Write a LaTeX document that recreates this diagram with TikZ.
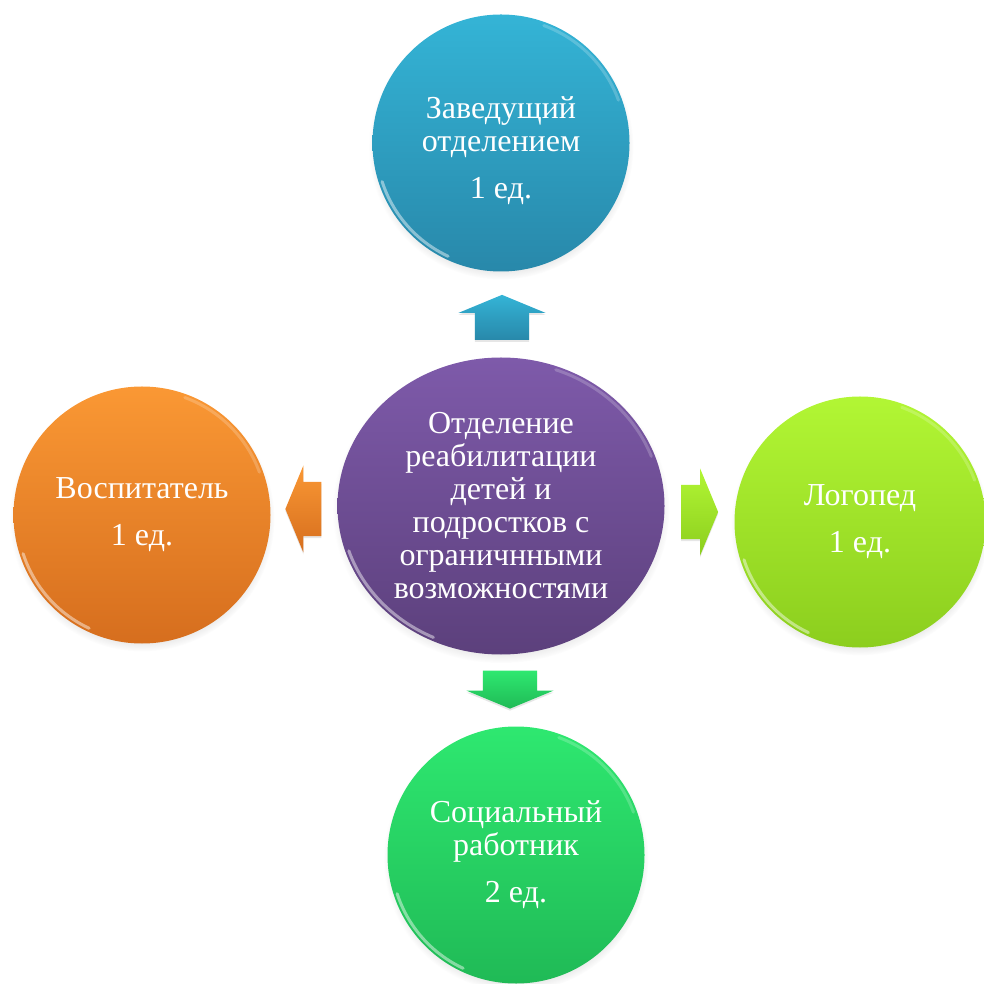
\documentclass[tikz,border=0pt]{standalone}
\usepackage{fontspec}
\setmainfont{Liberation Serif}
\usetikzlibrary{shapes.geometric, shapes.arrows, shadows}
\definecolor{depttop}{RGB}{126,90,170}
\definecolor{deptbot}{RGB}{92,64,124}
\definecolor{bosstop}{RGB}{52,180,214}
\definecolor{bossbot}{RGB}{40,136,170}
\definecolor{eductop}{RGB}{250,152,52}
\definecolor{educbot}{RGB}{214,110,30}
\definecolor{logotop}{RGB}{178,246,52}
\definecolor{logobot}{RGB}{140,206,30}
\definecolor{socitop}{RGB}{46,232,112}
\definecolor{socibot}{RGB}{32,186,86}

\begin{document}
\begin{tikzpicture}[x=1pt, y=1pt]
	\tikzstyle{every node} = [align=center, text=white, font=\fontsize{32}{33}\selectfont, inner sep=0pt]
	\tikzstyle{unit} = [circle, minimum size=257pt, circular drop shadow={shadow xshift=0pt, shadow yshift=-4pt, shadow scale=1.03, opacity=0.35}]
	\tikzstyle{blockarrow} = [single arrow, minimum height=38pt, single arrow head extend=16.5pt, single arrow tip angle=135, drop shadow={opacity=0.2, shadow xshift=0pt, shadow yshift=-2pt}]
	\tikzstyle{flat} = [inner ysep=27pt, inner xsep=0pt]
	\tikzstyle{upright} = [inner xsep=27pt, inner ysep=0pt]
	\tikzstyle{gloss} = [white, opacity=0.45, line width=3pt, line cap=round]
	\useasboundingbox (0,0) rectangle (984,983);
	\node[unit, ellipse, minimum width=327pt, minimum height=297pt, top color=depttop, bottom color=deptbot] (dept) at (501,477) {Отделение\\реабилитации\\детей и\\подростков с\\ограничнными\\возможностями};
	\node[unit, top color=bosstop, bottom color=bossbot] (boss) at (501,840) {\rule{0pt}{38pt}Заведущий\\отделением\\[14pt]1 ед.};
	\node[unit, top color=eductop, bottom color=educbot] (educ) at (142,468) {Воспитатель\\[14pt]1 ед.};
	\node[unit, minimum size=251pt, top color=logotop, bottom color=logobot] (logo) at (860,461) {Логопед\\[14pt]1 ед.};
	\node[unit, top color=socitop, bottom color=socibot] (soci) at (516,128) {Социальный\\работник\\[14pt]2 ед.};
	
	%block arrows between the centre and the units
	\node[blockarrow, upright, minimum height=45pt, shape border rotate=90, top color=bosstop, bottom color=bossbot] (to_boss) at (502,660) {};
	\node[blockarrow, flat, minimum height=36pt, shape border rotate=180, top color=eductop, bottom color=educbot] (to_educ) at (309,474) {};
	\node[blockarrow, flat, minimum height=37pt, shape border rotate=0, top color=logotop, bottom color=logobot] (to_logo) at (694,471) {};
	\node[blockarrow, upright, shape border rotate=270, top color=socitop, bottom color=socibot] (to_soci) at (510,299) {};
	
	%glossy rims
	\draw[gloss] ([shift={(198:125)}]boss.center) arc[start angle=198, end angle=245, radius=125];
	\draw[gloss] ([shift={(198:125)}]educ.center) arc[start angle=198, end angle=245, radius=125];
	\draw[gloss] ([shift={(198:122)}]logo.center) arc[start angle=198, end angle=245, radius=122];
	\draw[gloss] ([shift={(198:125)}]soci.center) arc[start angle=198, end angle=245, radius=125];
	\draw[gloss] (dept.center) ++(198:160 and 145) arc[start angle=198, end angle=245, x radius=160, y radius=145];
	\draw[gloss, opacity=0.2] ([shift={(20:125)}]boss.center) arc[start angle=20, end angle=70, radius=125];
	\draw[gloss, opacity=0.2] ([shift={(20:125)}]educ.center) arc[start angle=20, end angle=70, radius=125];
	\draw[gloss, opacity=0.2] ([shift={(20:122)}]logo.center) arc[start angle=20, end angle=70, radius=122];
	\draw[gloss, opacity=0.2] ([shift={(20:125)}]soci.center) arc[start angle=20, end angle=70, radius=125];
	\draw[gloss, opacity=0.2] (dept.center) ++(20:160 and 145) arc[start angle=20, end angle=70, x radius=160, y radius=145];
\end{tikzpicture}
\end{document}
